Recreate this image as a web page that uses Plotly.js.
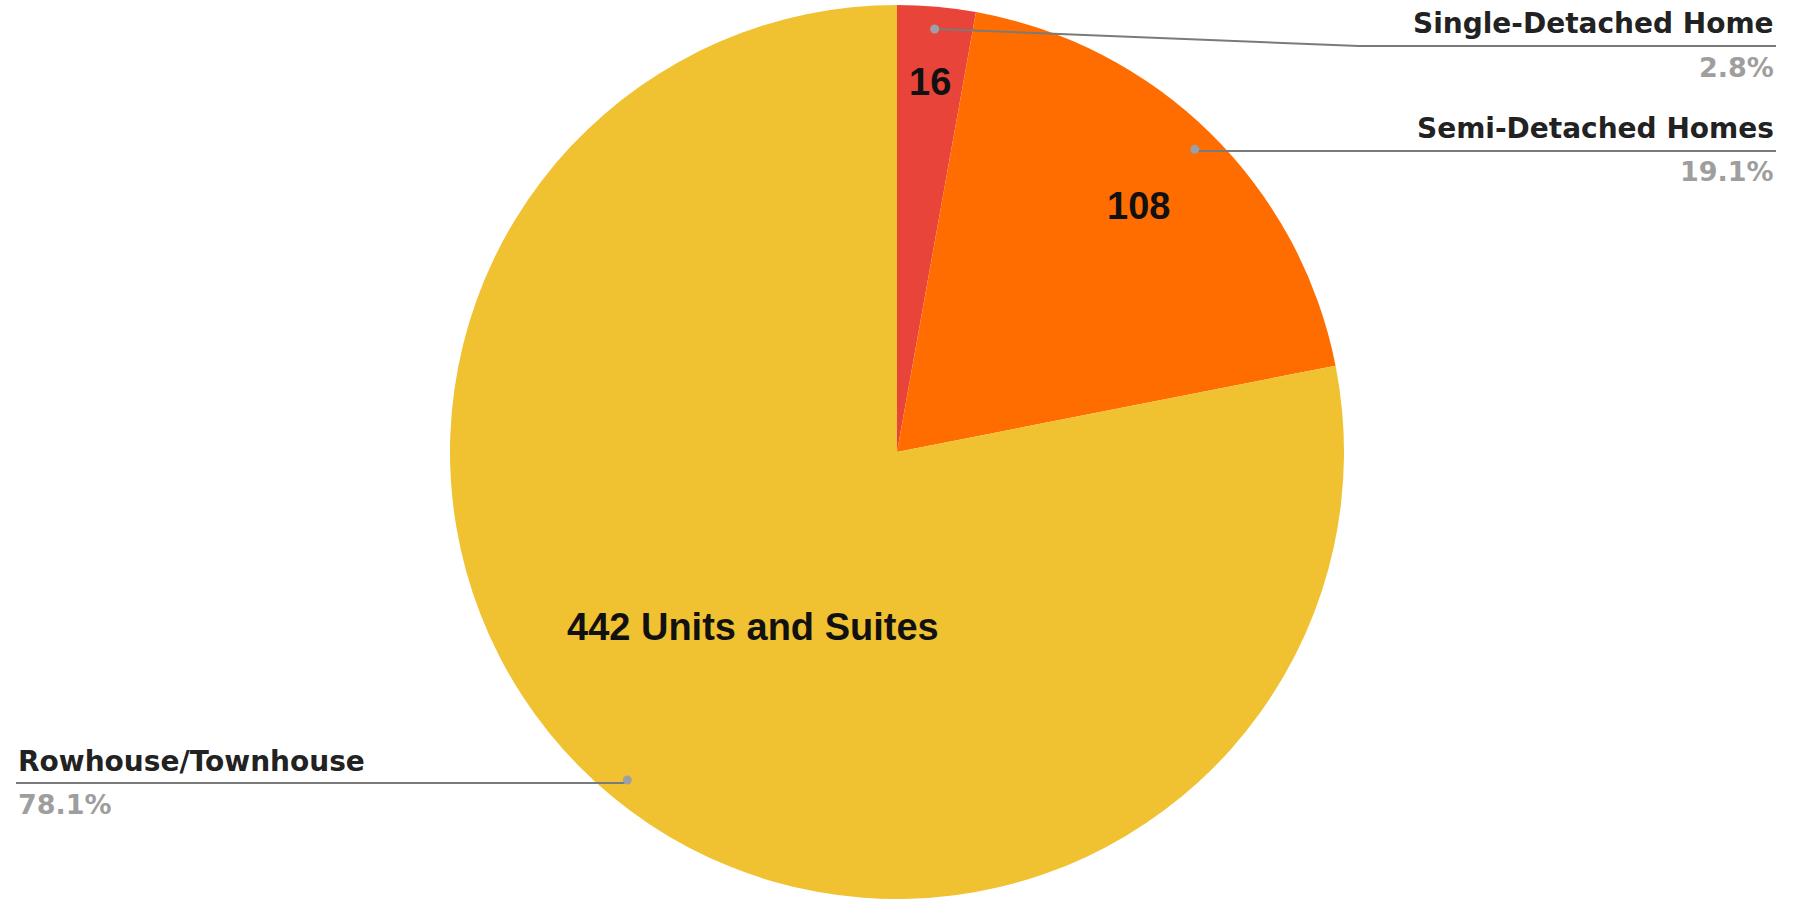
<!DOCTYPE html>
<html>
<head>
<meta charset="utf-8">
<script src="https://cdn.plot.ly/plotly-3.0.1.min.js"></script>
<style>html,body{margin:0;padding:0;background:#fff;}</style>
</head>
<body>
<div id="chart" style="width:1806px;height:899px;"></div>
<script>
// ---- data ----
const categories = ["Single-Detached Home", "Semi-Detached Homes", "Rowhouse/Townhouse"];
const unitCounts = [16, 108, 442];
const insideSuffix = ["", "", " Units and Suites"];
const sliceColors = ["#E9443A", "#FF6D01", "#F0C131"];

// ---- layout geometry (pixels) ----
const W = 1806, H = 899;
const cx = 897, cy = 452, R = 447;
const insideRadiusFrac = [0.83, 0.772, 0.507];
const labelLineY = [46, 151, 783];
const labelSide = ["right", "right", "left"];
const bendX = [1359, null, null];
const rightEdge = 1776, leftEdge = 16;

const total = unitCounts.reduce((a, b) => a + b, 0);
const px = x => x / W;
const py = y => 1 - y / H;

const trace = {
  type: "pie",
  labels: categories,
  values: unitCounts,
  textinfo: "none",
  sort: false,
  direction: "clockwise",
  rotation: 0,
  marker: { colors: sliceColors, line: { width: 0 } },
  hoverinfo: "label+value+percent",
  domain: { x: [(cx - R) / W, (cx + R) / W], y: [1 - (cy + R) / H, 1 - (cy - R) / H] }
};

const shapes = [];
const annotations = [];
let cum = 0;
unitCounts.forEach((v, i) => {
  const mid = (cum + v / 2) / total * 2 * Math.PI;
  cum += v;
  // value text inside slice, along the slice bisector
  const tx = cx + insideRadiusFrac[i] * R * Math.sin(mid);
  const ty = cy - insideRadiusFrac[i] * R * Math.cos(mid);
  annotations.push({
    xref: "paper", yref: "paper", x: px(tx), y: py(ty),
    xanchor: "center", yanchor: "middle", showarrow: false,
    text: "<b>" + v + insideSuffix[i] + "</b>",
    font: { family: "Liberation Sans, Arial, sans-serif", size: 38, color: "#111111" }
  });
  // leader line + dot
  const dx = cx + 0.95 * R * Math.sin(mid);
  const dy = cy - 0.95 * R * Math.cos(mid);
  const ly = labelLineY[i];
  const endX = labelSide[i] === "right" ? rightEdge : leftEdge;
  const bx = bendX[i] === null ? dx : bendX[i];
  shapes.push({
    type: "path", xref: "paper", yref: "paper",
    path: `M ${px(dx)} ${py(dy)} L ${px(bx)} ${py(ly)} L ${px(endX)} ${py(ly)}`,
    line: { color: "#7a7a7a", width: 2 }
  });
  shapes.push({
    type: "circle", xref: "paper", yref: "paper",
    x0: px(dx - 4.5), x1: px(dx + 4.5), y0: py(dy + 4.5), y1: py(dy - 4.5),
    fillcolor: "#9aa0a6", line: { width: 0 }
  });
  const anchor = labelSide[i] === "right" ? "right" : "left";
  annotations.push({
    xref: "paper", yref: "paper", x: px(endX), y: py(ly - 22),
    xanchor: anchor, yanchor: "middle", showarrow: false,
    text: "<b>" + categories[i] + "</b>",
    font: { family: "DejaVu Sans, sans-serif", size: 28, color: "#222222" }
  });
  annotations.push({
    xref: "paper", yref: "paper", x: px(endX), y: py(ly + 21),
    xanchor: anchor, yanchor: "middle", showarrow: false,
    text: "<b>" + (v / total * 100).toFixed(1) + "%</b>",
    font: { family: "DejaVu Sans, sans-serif", size: 27, color: "#9e9e9e" }
  });
});

const layout = {
  width: W, height: H,
  margin: { l: 0, r: 0, t: 0, b: 0 },
  showlegend: false,
  paper_bgcolor: "#ffffff",
  shapes: shapes,
  annotations: annotations
};

Plotly.newPlot("chart", [trace], layout, { displayModeBar: false, staticPlot: true });
</script>
</body>
</html>
